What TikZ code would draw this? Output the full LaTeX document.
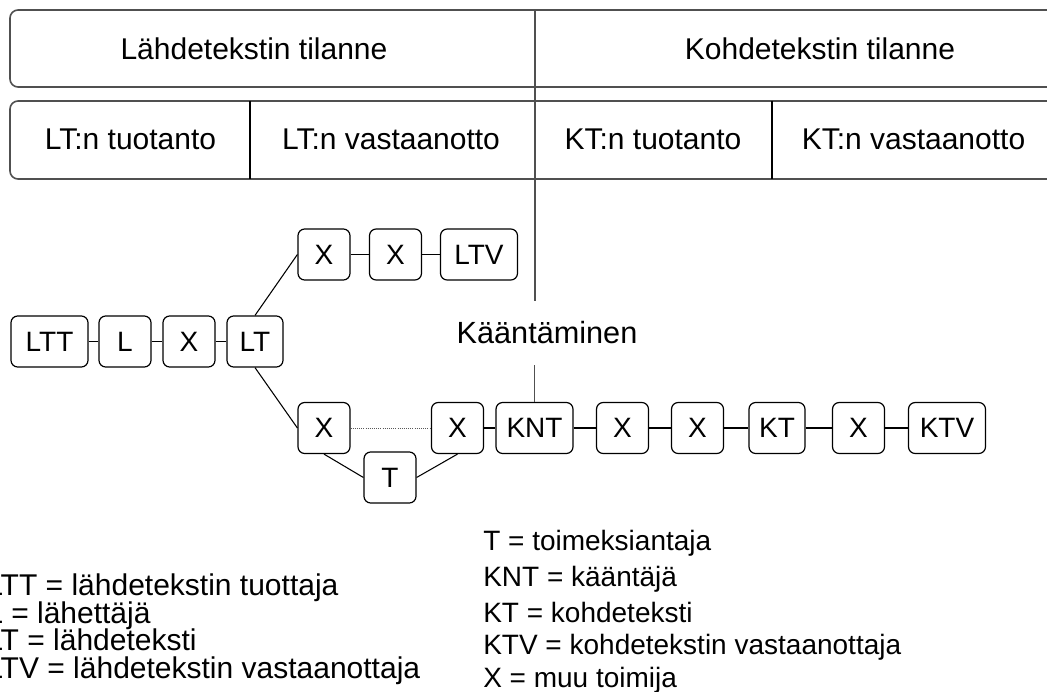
\documentclass[tikz,border=0pt]{standalone}
\usepackage{fontspec}
\setmainfont{Liberation Sans}
\usetikzlibrary{positioning, calc}

\tikzset{
    toimija/.style={draw=black, line width=0.9pt, rounded corners=5pt, minimum height=38.25pt, inner sep=0pt},
    kapea/.style={toimija, minimum width=39pt},
    keski/.style={toimija, minimum width=42pt},
    levea/.style={toimija, minimum width=57.75pt},
    yhteys/.style={line width=0.8pt},
    otsikko/.style={anchor=base, font=\fontsize{22.5}{27}\selectfont},
    selite/.style={anchor=base west, inner sep=0pt}
}

\begin{document}
\begin{tikzpicture}[x=0.75pt, y=-0.75pt, font=\fontsize{21}{25}\selectfont]
        % Värit
        \definecolor{reuna}{RGB}{80, 80, 80}

        \useasboundingbox (0,0) rectangle (1047,692);
        \clip (0,0) rectangle (1047,692);

        % 1. Otsikkorivit (oikea reuna jää kuvan ulkopuolelle)
        \draw[reuna, line width=1.2pt, rounded corners=6pt] (10,10) rectangle (1110,87);
        \draw[reuna, line width=1.2pt, rounded corners=6pt] (10,101) rectangle (1110,179);
        \draw[line width=0.8pt] (250,101) -- (250,179);
        \draw[line width=0.8pt] (772,101) -- (772,179);

        \node[otsikko] (lt_tilanne) at (254, 60) {Lähdetekstin tilanne};
        \node[otsikko] (kt_tilanne) at (820, 60) {Kohdetekstin tilanne};
        \node[otsikko] (lt_tuot) at (130.5, 150) {LT:n tuotanto};
        \node[otsikko] (lt_vast) at (391, 150) {LT:n vastaanotto};
        \node[otsikko] (kt_tuot) at (653, 150) {KT:n tuotanto};
        \node[otsikko] (kt_vast) at (913.5, 150) {KT:n vastaanotto};

        % 2. Lähdetekstin ketju
        \node[levea] (ltt) at (49.5, 341.5) {LTT};
        \node[kapea] (l) at (125, 341.5) {L};
        \node[kapea] (x1) at (189, 341.5) {X};
        \node[keski] (lt) at (255, 341.5) {LT};

        % ylähaara: lähdetekstin vastaanotto
        \node[kapea] (ux1) at (324, 254.5) {X};
        \node[kapea] (ux2) at (395.5, 254.5) {X};
        \node[levea] (ltv) at (479, 254.5) {LTV};

        % alahaara: käännös
        \node[kapea] (lx1) at (324, 428) {X};
        \node[kapea] (lx2) at (457.5, 428) {X};
        \node[kapea] (t) at (390, 477.5) {T};
        \node[levea] (knt) at (534.5, 428) {KNT};
        \node[kapea] (kx1) at (622.5, 428) {X};
        \node[kapea] (kx2) at (697.5, 428) {X};
        \node[keski] (kt) at (777, 428) {KT};
        \node[kapea] (kx3) at (858.5, 428) {X};
        \node[levea] (ktv) at (947, 428) {KTV};

        % 3. Yhteydet
        \foreach \a/\b in {ltt/l, l/x1, x1/lt, ux1/ux2, ux2/ltv, lx2/knt, knt/kx1, kx1/kx2, kx2/kt, kt/kx3, kx3/ktv}
            \draw[yhteys] (\a) -- (\b);
        \draw[yhteys] (lt.north) -- (ux1.west);
        \draw[yhteys] (lt.south) -- (lx1.west);
        \draw[yhteys] (lx1.south) -- (t.west);
        \draw[yhteys] (t.east) -- (lx2.south);
        \draw[line width=0.6pt, gray!70!black, densely dotted] (lx1) -- (lx2);

        % 4. Kääntäminen ja pystyviiva
        \node[minimum height=48pt, inner sep=0pt, font=\fontsize{23}{27}\selectfont] (kaant) at (547, 333) {Kääntäminen};
        \coordinate (jako) at (535, 10);
        \draw[reuna, line width=1pt] (jako) -- (jako |- kaant.north);
        \draw[reuna, line width=1pt] (kaant.south -| knt.north) -- (knt.north);

        % 5. Selitteet
        \begin{scope}[font=\fontsize{22.5}{27}\selectfont]
        \node[selite] (s1) at (-14, 595) {LTT = lähdetekstin tuottaja};
        \node[selite] (s2) at (-14, 623) {L = lähettäjä};
        \node[selite] (s3) at (-14, 650) {LT = lähdeteksti};
        \node[selite] (s4) at (-14, 678) {LTV = lähdetekstin vastaanottaja};
        \end{scope}

        \node[selite] (s5) at (483, 550) {T = toimeksiantaja};
        \node[selite] (s6) at (483, 586) {KNT = kääntäjä};
        \node[selite] (s7) at (483, 622) {KT = kohdeteksti};
        \node[selite] (s8) at (483, 654) {KTV = kohdetekstin vastaanottaja};
        \node[selite] (s9) at (483, 687) {X = muu toimija};

    \end{tikzpicture}
\end{document}
